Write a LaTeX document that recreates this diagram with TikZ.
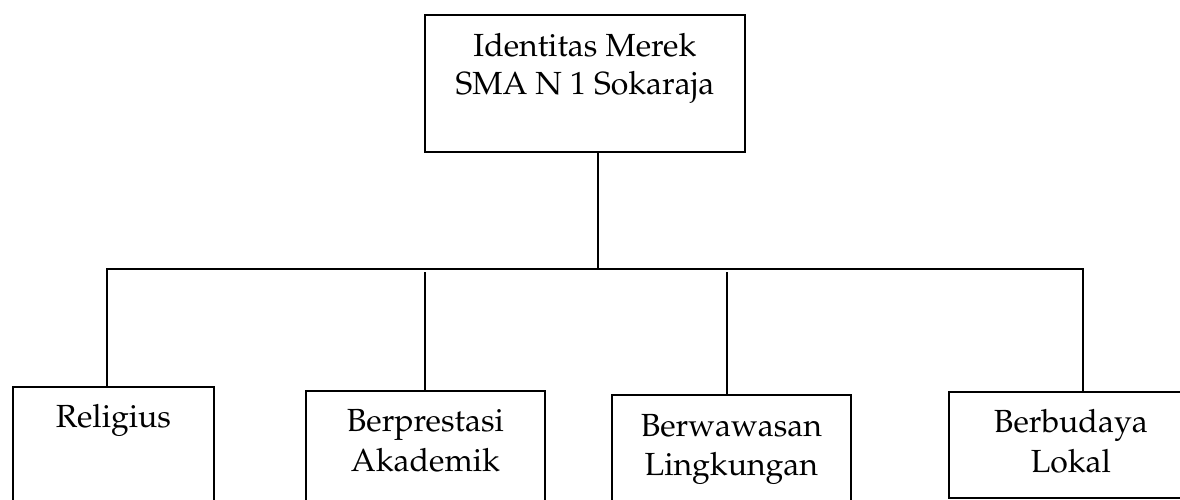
\documentclass[tikz,border=0pt]{standalone}
\usepackage[T1]{fontenc}
\usepackage{mathpazo}
\begin{document}
\begin{tikzpicture}[x=1pt,y=-1pt]
\tikzset{
  boxst/.style={draw, line width=1.8pt, inner sep=0pt, anchor=north west},
  lbl/.style={anchor=base, align=center, inner sep=0pt, font=\fontsize{32}{39.5}\selectfont},
  conn/.style={line width=1.2pt}
}
\useasboundingbox (0,0) rectangle (1180,500);
\clip (0,0) rectangle (1180,500);
\fill[white] (0,0) rectangle (1180,500);

% boxes
\node[boxst, minimum width=320pt, minimum height=137pt] (top) at (424,14) {};
\node[boxst, minimum width=201pt, minimum height=140pt] (rel) at (12,386) {};
\node[boxst, minimum width=239pt, minimum height=140pt] (pre) at (305,390) {};
\node[boxst, minimum width=239pt, minimum height=140pt] (lin) at (611,394) {};
\node[boxst, minimum width=244pt, minimum height=106pt] (bud) at (948,391) {};

% texts (base anchor = baseline of the last line)
\node[lbl, font=\fontsize{32}{38}\selectfont] (toptxt) at ([yshift=-81pt]top.north) {Identitas Merek\\SMA N 1 Sokaraja};
\node[lbl] (reltxt) at ([yshift=-41pt]rel.north) {Religius};
\node[lbl] (pretxt) at ([yshift=-81pt]pre.north) {Berprestasi\\Akademik};
\node[lbl] (lintxt) at ([yshift=-81.5pt]lin.north) {Berwawasan\\Lingkungan};
\node[lbl] (budtxt) at ([yshift=-81pt]bud.north) {Berbudaya\\Lokal};

% connectors
\coordinate (j) at (598,269);
\coordinate (hl) at (107,269);
\coordinate (hr) at (1083,269);
\coordinate (p1) at (425,272);
\coordinate (l1) at (727,272);
\draw[conn] (top.south -| j) -- (j);
\draw[conn] (rel.north -| hl) -- (hl) -- (hr) -- (bud.north -| hr);
\draw[conn] (p1) -- (pre.north -| p1);
\draw[conn] (l1) -- (lin.north -| l1);
\end{tikzpicture}
\end{document}
